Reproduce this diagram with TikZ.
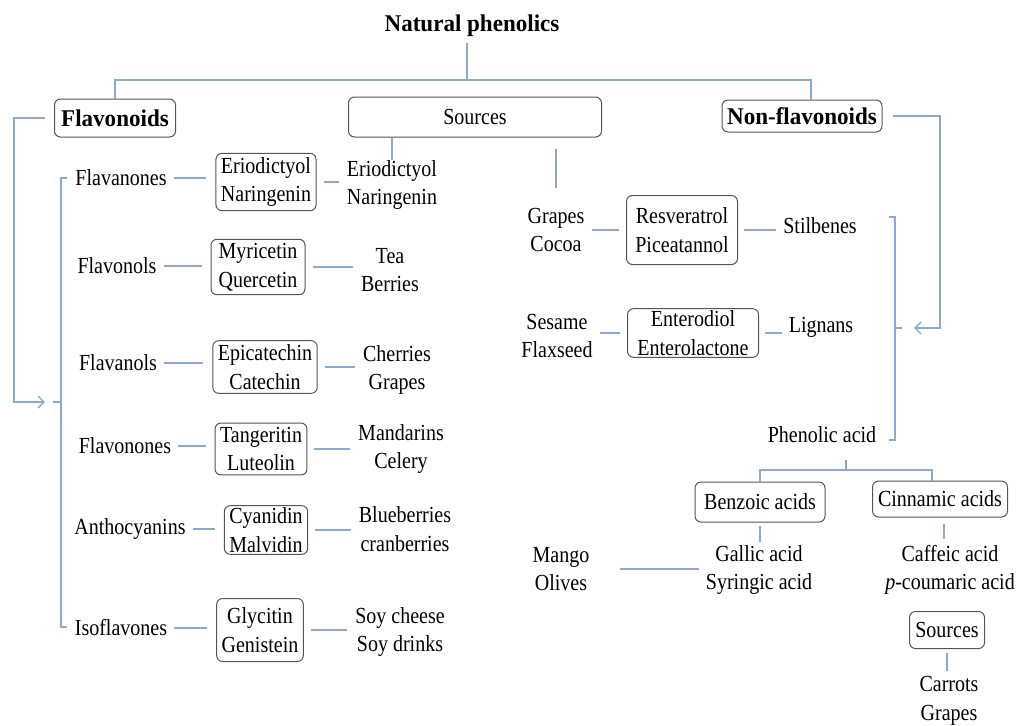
\documentclass[tikz,border=0pt]{standalone}
\usepackage{fontspec}
\setmainfont{Liberation Serif}[FakeStretch=0.87]
\newfontfamily\headfont{Liberation Serif}[FakeStretch=0.96]
\usetikzlibrary{arrows.meta}
\definecolor{linkblue}{RGB}{140,168,212}
\definecolor{boxgray}{RGB}{85,85,85}
\tikzset{
  txt/.style={align=center, inner sep=0pt, font=\fontsize{23}{28.5}\selectfont},
  box/.style={txt, draw=boxgray, line width=1pt, rounded corners=6pt, inner xsep=5pt, inner ysep=4pt},
  headbox/.style={box, font=\headfont\bfseries\fontsize{24}{28}\selectfont},
  link/.style={draw=linkblue, line width=1.4pt},
  gap/.style 2 args={shorten <=#1pt, shorten >=#2pt},
  tip/.style={-{Straight Barb[length=6pt,width=12pt]}}
}
\begin{document}
\begin{tikzpicture}[x=1pt,y=-1pt]
	\useasboundingbox (0,0) rectangle (1016,725);
	% top level
	\node[inner sep=0pt, font=\headfont\bfseries\fontsize{24}{28}\selectfont] (top) at (472,26) {Natural phenolics};
	\node[headbox, minimum width=121pt, minimum height=38pt] (flav) at (115,118) {Flavonoids};
	\node[box, minimum width=253pt, minimum height=40pt] (src) at (475,117) {Sources};
	\node[headbox, minimum width=160pt, minimum height=32pt] (nonflav) at (802,116) {Non-flavonoids};
	\coordinate (split) at (467,80);
	\draw[link, shorten <=6pt] (top.south -| split) -- (split);
	\draw[link] (flav.north) |- (split) -| ([xshift=9pt]nonflav.north);

	% flavonoids
	\node[txt] (fa) at (121,178) {Flavanones};
	\node[box] (fa-b) at (266,182) {Eriodictyol\\Naringenin};
	\node[txt] (fa-s) at (392,185) {Eriodictyol\\Naringenin};
	\node[txt] (fo) at (117,266) {Flavonols};
	\node[box, minimum width=94pt] (fo-b) at (258,267) {Myricetin\\Quercetin};
	\node[txt] (fo-s) at (390,270) {Tea\\Berries};
	\node[txt] (fl) at (118,363) {Flavanols};
	\node[box] (fl-b) at (265,367) {Epicatechin\\Catechin};
	\node[txt] (fl-s) at (397,370) {Cherries\\Grapes};
	\node[txt] (fn) at (125,446) {Flavonones};
	\node[box] (fn-b) at (261,449) {Tangeritin\\Luteolin};
	\node[txt] (fn-s) at (401,449) {Mandarins\\Celery};
	\node[txt] (an) at (130,529) {Anthocyanins};
	\node[box, inner ysep=2pt] (an-b) at (266,530) {Cyanidin\\Malvidin};
	\node[txt] (an-s) at (405,529) {Blueberries\\cranberries};
	\node[txt] (is) at (121,628) {Isoflavones};
	\node[box, minimum height=63pt] (is-b) at (260,630) {Glycitin\\Genistein};
	\node[txt] (is-s) at (400,632) {Soy cheese\\Soy drinks};
	\foreach \c in {fa,fo,fl,fn,an,is} {
		\draw[link, gap={7}{9}] (\c.east) -- (\c.east -| \c-b.west);
		\draw[link, gap={7}{8}] (\c-b.east) -- (\c-b.east -| \c-s.west);
	}
	\draw[link] (src.south -| fa-s.north) -- (fa-s.north);
	\coordinate (flavin) at (45,402);
	\draw[link, tip, shorten <=9pt] (flav.west) -| ([xshift=-31pt]flavin) -- (flavin);
	\draw[link] (67,178) -- (61,178) -- (61,627) -- (67,627);
	\draw[link] (53,402) -- (61,402);

	% non-flavonoids
	\node[txt] (st-s) at (556,230) {Grapes\\Cocoa};
	\node[box, minimum width=111pt, minimum height=69pt] (st-b) at (682,230) {Resveratrol\\Piceatannol};
	\node[txt] (st) at (820,226) {Stilbenes};
	\node[txt] (li-s) at (557,336) {Sesame\\Flaxseed};
	\node[box, minimum width=131pt, inner ysep=2pt] (li-b) at (693,333) {Enterodiol\\Enterolactone};
	\node[txt] (li) at (821,327) {Lignans};
	\node[txt] (ph) at (822,435) {Phenolic acid};
	\foreach \c in {st,li} {
		\draw[link, gap={7}{7}] (\c-b.west -| \c-s.east) -- (\c-b.west);
		\draw[link, gap={6}{7}] (\c-b.east) -- (\c-b.east -| \c.west);
	}
	\draw[link, gap={11}{20}] (src.south -| st-s.north) -- (st-s.north);
	\coordinate (nfin) at (914,328);
	\draw[link, tip, shorten <=10pt] (nonflav.east) -| ([xshift=26pt]nfin) -- (nfin);
	\draw[link] (889,217) -- (895,217) -- (895,440) -- (889,440);
	\draw[link] (895,328) -- (902,328);

	% phenolic acids
	\node[box, minimum width=130pt, minimum height=40pt] (bz) at (760,502) {Benzoic acids};
	\node[box, minimum width=135pt, minimum height=36pt] (cn) at (940,499) {Cinnamic acids};
	\node[txt] (bz-s) at (759,570) {Gallic acid\\Syringic acid};
	\node[txt] (mg) at (561,569) {Mango\\Olives};
	\node[txt] (cn-s) at (950,570) {Caffeic acid\\\textit{p}-coumaric acid};
	\node[box, minimum width=75pt, minimum height=37pt] (cs) at (947,630) {Sources};
	\node[txt] (cs-s) at (949,701) {Carrots\\Grapes};
	\coordinate (phsplit) at (846,470);
	\draw[link] ([yshift=-17pt]ph.south -| phsplit) -- (phsplit);
	\draw[link] (bz.north) |- (phsplit) -| ([xshift=-8pt]cn.north);
	\draw[link, gap={3}{3}] (bz.south) -- (bz.south |- bz-s.north);
	\draw[link, gap={30}{7}] (mg.east) -- (mg.east -| bz-s.west);
	\draw[link, gap={6}{6}] ([xshift=4pt]cn.south) -- ([xshift=4pt]cn.south |- cn-s.north);
	\draw[link, gap={4}{5}] (cs.south) -- (cs.south |- cs-s.north);
\end{tikzpicture}
\end{document}
